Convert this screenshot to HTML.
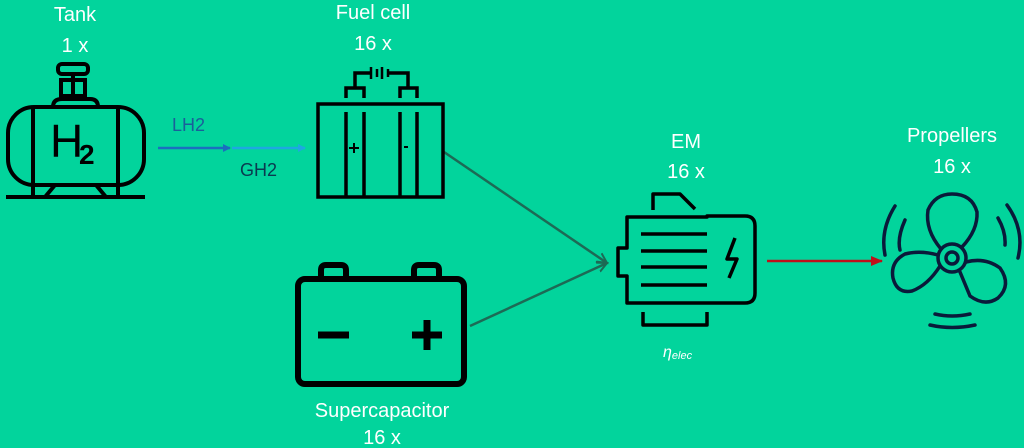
<!DOCTYPE html>
<html><head><style>
html,body{margin:0;padding:0;background:#02d49c;}
svg{display:block;}
text{font-family:"Liberation Sans",sans-serif;}
</style></head><body>
<svg width="1024" height="448" viewBox="0 0 1024 448" xmlns="http://www.w3.org/2000/svg">
<rect width="1024" height="448" fill="#02d49c"/>
<defs>
<marker id="ab" markerWidth="8" markerHeight="8" refX="7" refY="4" orient="auto" markerUnits="userSpaceOnUse"><path d="M0,0 L8,4 L0,8z" fill="#1a6fbf"/></marker>
<marker id="al" markerWidth="8" markerHeight="8" refX="7" refY="4" orient="auto" markerUnits="userSpaceOnUse"><path d="M0,0 L8,4 L0,8z" fill="#1ea8e0"/></marker>
<marker id="ag" markerWidth="12" markerHeight="12" refX="10" refY="6" orient="auto" markerUnits="userSpaceOnUse"><path d="M0,1 L10,6 L0,11" fill="none" stroke="#1d6a55" stroke-width="2"/></marker>
<marker id="ar" markerWidth="12" markerHeight="10" refX="11" refY="5" orient="auto" markerUnits="userSpaceOnUse"><path d="M0,0 L12,5 L0,10z" fill="#c0101a"/></marker>
</defs>
<g fill="#fff" font-size="20" text-anchor="middle">
<text x="75" y="21">Tank</text><text x="75" y="52">1 x</text>
<text x="373" y="19">Fuel cell</text><text x="373" y="50">16 x</text>
<text x="686" y="148">EM</text><text x="686" y="178">16 x</text>
<text x="952" y="142">Propellers</text><text x="952" y="173">16 x</text>
<text x="382" y="417">Supercapacitor</text><text x="382" y="444">16 x</text>
</g>
<text x="172" y="131" font-size="18" fill="#1a5f9a">LH2</text>
<text x="240" y="176" font-size="18" fill="#0a3a50">GH2</text>
<text x="663" y="357" font-size="16" font-style="italic" fill="#fff" font-family="Liberation Serif,serif">η<tspan font-size="11" dy="2">elec</tspan></text>
<!-- arrows -->
<line x1="158" y1="148" x2="230" y2="148" stroke="#1a6fbf" stroke-width="2.5" marker-end="url(#ab)"/>
<line x1="232" y1="148" x2="305" y2="148" stroke="#1ea8e0" stroke-width="2.5" marker-end="url(#al)"/>
<line x1="444" y1="152" x2="607" y2="263" stroke="#1d6a55" stroke-width="2.5" marker-end="url(#ag)"/>
<line x1="470" y1="326" x2="607" y2="263" stroke="#1d6a55" stroke-width="2.5" marker-end="url(#ag)"/>
<line x1="767" y1="261" x2="882" y2="261" stroke="#c0101a" stroke-width="2.5" marker-end="url(#ar)"/>
<!-- tank -->
<g fill="none" stroke="#000" stroke-width="4">
<rect x="8" y="107" width="136" height="78" rx="26"/>
<line x1="33" y1="107" x2="33" y2="185"/><line x1="118" y1="107" x2="118" y2="185"/>
<line x1="6" y1="197" x2="145" y2="197"/>
<path d="M33 185V197M118 185V197M45 197L55 185M106 197L96 185"/>
<path d="M53 107Q53 99 62 99H90Q98 99 98 107"/>
<rect x="58" y="64" width="30" height="10" rx="4"/>
<path d="M73 74V99M61 80H85V96H61Z"/>
</g>
<text x="50" y="157" font-size="46" fill="#000">H</text>
<text x="79" y="164" font-size="28" font-weight="bold" fill="#000">2</text>
<!-- fuel cell -->
<g fill="none" stroke="#000" stroke-width="3.5">
<rect x="318" y="104" width="125" height="93"/>
<path d="M346 112V197M364 112V197M400 112V197M417 112V197"/>
<path d="M346 98V88H364V98M400 98V88H417V98M355 88V73H371M388 73H408V88"/>
<path d="M371 67V79M377 69V77M382 67V79M388 69V77" stroke-width="2.5"/>
<path d="M349 148H359M354 143V153M404 147H408" stroke-width="2"/>
</g>
<!-- battery -->
<g fill="none" stroke="#000" stroke-width="6">
<rect x="298" y="279" width="166" height="105" rx="7"/>
<path d="M321 277V270Q321 265 326 265H341Q346 265 346 270V277M414 277V270Q414 265 419 265H434Q439 265 439 270V277"/>
<path d="M318 335H349M412 335H442M427 320V350" stroke-width="7"/>
</g>
<!-- motor -->
<g fill="none" stroke="#000" stroke-width="3.5" stroke-linejoin="round">
<path d="M627 248H618V276H627V303H745Q755 303 755 293V226Q755 216 745 216H707V217H640V217H627Z"/>
<path d="M653 210V194H680L695 209"/>
<path d="M641 234H707M641 251H707M641 267H707M641 285H707"/>
<path d="M735 238L727 259H737L729 278"/>
<path d="M643 312V325H707V312"/>
</g>
<!-- propeller -->
<g fill="none" stroke="#0a1a3a" stroke-width="3.5" stroke-linecap="round">
<circle cx="952" cy="258" r="14"/><circle cx="952" cy="258" r="6"/>
<path d="M941 249Q925 230 928 210Q935 194 952 194Q972 194 977 212Q978 230 962 247"/>
<path d="M966 262Q985 257 1000 268Q1012 285 998 298Q985 307 970 296L960 272"/>
<path d="M940 266Q928 285 912 291Q897 294 893 278Q890 262 905 254Q920 250 938 255"/>
<path d="M895 206Q880 230 885 255M905 220Q897 238 900 250"/>
<path d="M1007 205Q1025 230 1018 258M998 218Q1006 232 1005 245"/>
<path d="M935 314Q952 318 970 314M930 325Q952 330 975 325"/>
</g>
</svg>
</body></html>
